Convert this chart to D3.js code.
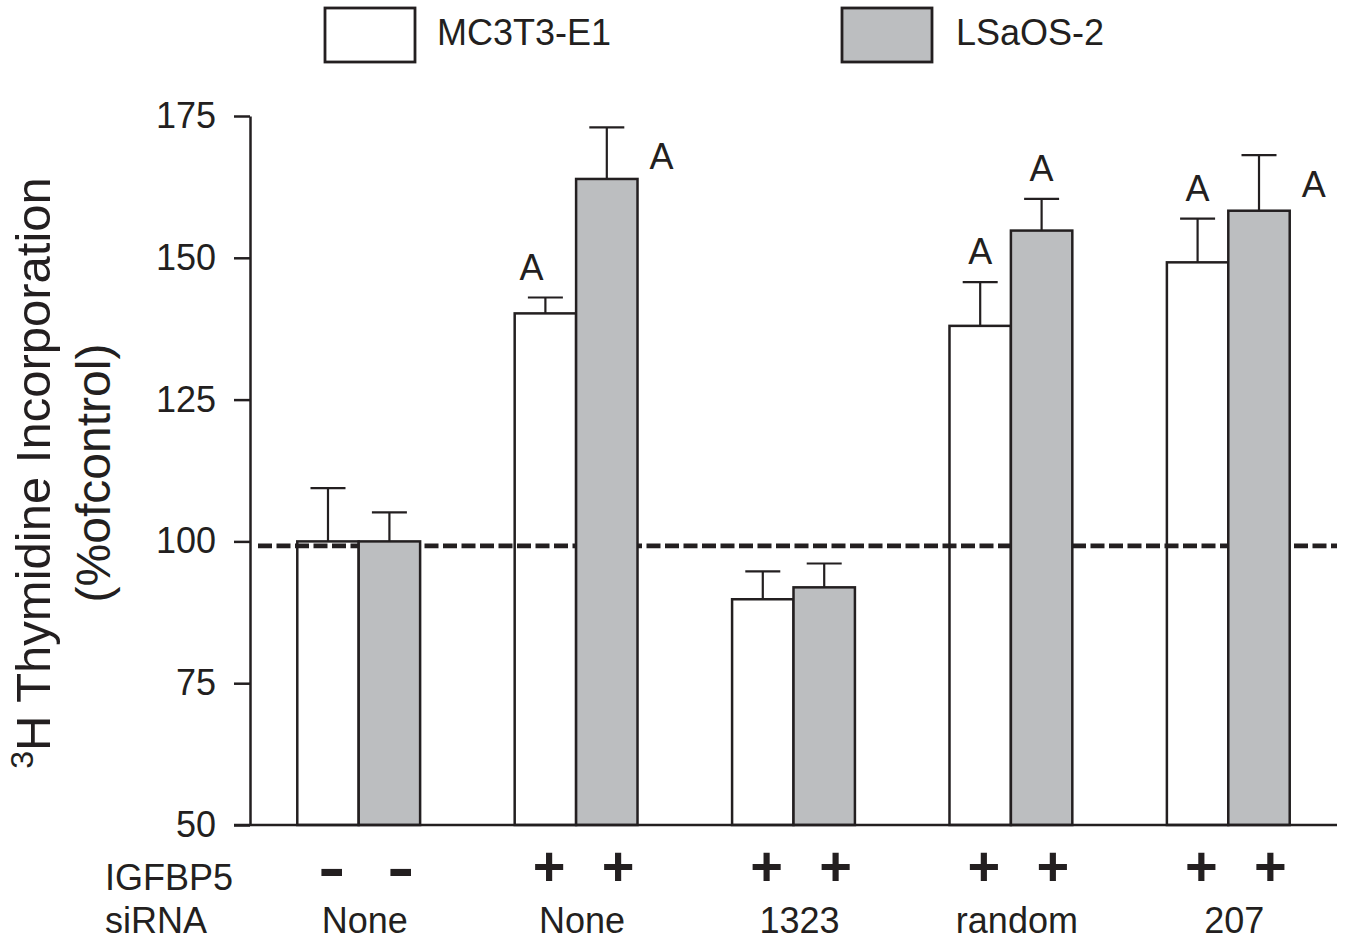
<!DOCTYPE html>
<html>
<head>
<meta charset="utf-8">
<script src="https://cdn.jsdelivr.net/npm/d3@7"></script>
<style>
  html, body { margin: 0; padding: 0; background: #fff; }
  svg { display: block; }
  text { font-family: "Liberation Sans", Arial, Helvetica, sans-serif; fill: #231f20; }
</style>
</head>
<body>
<svg id="chart" width="1347" height="941"></svg>
<script>
// ---- data ----
const groups = ["None", "None", "1323", "random", "207"];          // siRNA
const igfbp5 = ["-", "+", "+", "+", "+"];                           // IGFBP5 treatment
const seriesNames = ["MC3T3-E1", "LSaOS-2"];
const mc3t3 = [100, 140.2, 89.8, 138.0, 149.2];
const mc3t3Err = [9.4, 2.8, 4.9, 7.7, 7.7];
const lsaos = [100, 163.9, 91.9, 154.8, 158.3];
const lsaosErr = [5.1, 9.1, 4.2, 5.6, 9.8];
const mc3t3Sig = ["", "A", "", "A", "A"];
const lsaosSig = ["", "A", "", "A", "A"];
const yTicks = [50, 75, 100, 125, 150, 175];
const controlLevel = 99.2;

// ---- layout ----
const ink = "#231f20", grayFill = "#bcbec0";
const svg = d3.select("#chart");
const plotL = 250, plotR = 1337, plotT = 116, plotB = 825;

const y = d3.scaleLinear().domain([50, 175]).range([plotB, plotT]);
const x = d3.scaleBand().domain(d3.range(groups.length)).range([plotL, plotR])
  .paddingInner(0.435).paddingOuter(0.2175);
const xs = d3.scaleBand().domain(seriesNames).range([0, x.bandwidth()]).padding(0);
const fills = {"MC3T3-E1": "#ffffff", "LSaOS-2": grayFill};

const bars = [];
groups.forEach((g, i) => {
  bars.push({g: i, s: "MC3T3-E1", v: mc3t3[i], e: mc3t3Err[i], sig: mc3t3Sig[i]});
  bars.push({g: i, s: "LSaOS-2", v: lsaos[i], e: lsaosErr[i], sig: lsaosSig[i]});
});
const bx = d => x(d.g) + xs(d.s);

// y axis
const yAxis = d3.axisLeft(y).tickValues(yTicks).tickSize(16).tickSizeOuter(0).tickPadding(18);
const ga = svg.append("g").attr("transform", `translate(${plotL},0)`).call(yAxis);
ga.select(".domain").attr("stroke", ink).attr("stroke-width", 2.5);
ga.selectAll(".tick line").attr("stroke", ink).attr("stroke-width", 2.5);
ga.selectAll(".tick text").attr("font-size", 36).attr("fill", ink)
  .attr("font-family", '"Liberation Sans", Arial, sans-serif');

// error bars (behind bars)
const eg = svg.append("g").attr("stroke", ink).attr("stroke-width", 2.2);
bars.forEach(d => {
  const cx = bx(d) + xs.bandwidth() / 2;
  eg.append("line").attr("x1", cx).attr("x2", cx).attr("y1", y(d.v)).attr("y2", y(d.v + d.e));
  eg.append("line").attr("x1", cx - 17.5).attr("x2", cx + 17.5).attr("y1", y(d.v + d.e)).attr("y2", y(d.v + d.e));
});

// bars helper
const barSel = (data) => svg.append("g").selectAll("rect").data(data).join("rect")
  .attr("x", bx).attr("width", xs.bandwidth())
  .attr("y", d => y(d.v)).attr("height", d => y(50) - y(d.v))
  .attr("fill", d => fills[d.s]).attr("stroke", ink).attr("stroke-width", 2.5);

// white bars
barSel(bars.filter(d => d.s === "MC3T3-E1"));

// dashed control line
svg.append("line").attr("x1", plotL + 8).attr("x2", plotR)
  .attr("y1", y(controlLevel)).attr("y2", y(controlLevel))
  .attr("stroke", ink).attr("stroke-width", 4.8).attr("stroke-dasharray", "14,4.5");

// gray bars
barSel(bars.filter(d => d.s === "LSaOS-2"));

// baseline
svg.append("line").attr("x1", plotL - 16).attr("x2", plotR).attr("y1", y(50)).attr("y2", y(50))
  .attr("stroke", ink).attr("stroke-width", 2.5);

// significance letters
bars.filter(d => d.sig).forEach(d => {
  const tipY = y(d.v + d.e);
  const cx = bx(d) + xs.bandwidth() / 2;
  let tx, ty;
  if (d.s === "LSaOS-2" && d.v + d.e > 165) { tx = bx(d) + xs.bandwidth() + 24; ty = tipY + 42; }
  else { tx = cx - (d.g === 1 ? 14 : 0); ty = tipY - 18; }
  svg.append("text").attr("x", tx).attr("y", ty).attr("text-anchor", "middle")
    .attr("font-size", 36).text(d.sig);
});

// IGFBP5 signs and siRNA labels
groups.forEach((g, i) => {
  const c = x(i) + x.bandwidth() / 2;
  [c - 27, c + 42].forEach(px => {
    if (igfbp5[i] === "-") {
      svg.append("text").attr("transform", `translate(${px},888) scale(1.5,1.1)`)
        .attr("text-anchor", "middle").attr("font-weight", "bold").attr("font-size", 54).text("-");
    } else {
      svg.append("text").attr("x", px).attr("y", 885).attr("text-anchor", "middle")
        .attr("font-weight", "bold").attr("font-size", 56).text("+");
    }
  });
  svg.append("text").attr("x", c + 6).attr("y", 933).attr("text-anchor", "middle")
    .attr("font-size", 36).text(g);
});
svg.append("text").attr("x", 105).attr("y", 890).attr("font-size", 36).text("IGFBP5");
svg.append("text").attr("x", 105).attr("y", 933).attr("font-size", 36).text("siRNA");

// y axis title
const yt = svg.append("g").attr("transform", "translate(50,473) rotate(-90)");
const l1 = yt.append("text").attr("text-anchor", "middle").attr("font-size", 49);
l1.append("tspan").attr("font-size", 32).attr("dy", -17).text("3");
l1.append("tspan").attr("dy", 17).text("H Thymidine Incorporation");
yt.append("text").attr("text-anchor", "middle").attr("font-size", 48).attr("y", 60).text("(%ofcontrol)");

// legend
const legend = [{name: seriesNames[0], x: 325, tx: 437}, {name: seriesNames[1], x: 842, tx: 956}];
legend.forEach(l => {
  svg.append("rect").attr("x", l.x).attr("y", 8).attr("width", 90).attr("height", 54)
    .attr("fill", fills[l.name]).attr("stroke", ink).attr("stroke-width", 2.8);
  svg.append("text").attr("x", l.tx).attr("y", 45).attr("font-size", 36).text(l.name);
});
</script>
</body>
</html>
